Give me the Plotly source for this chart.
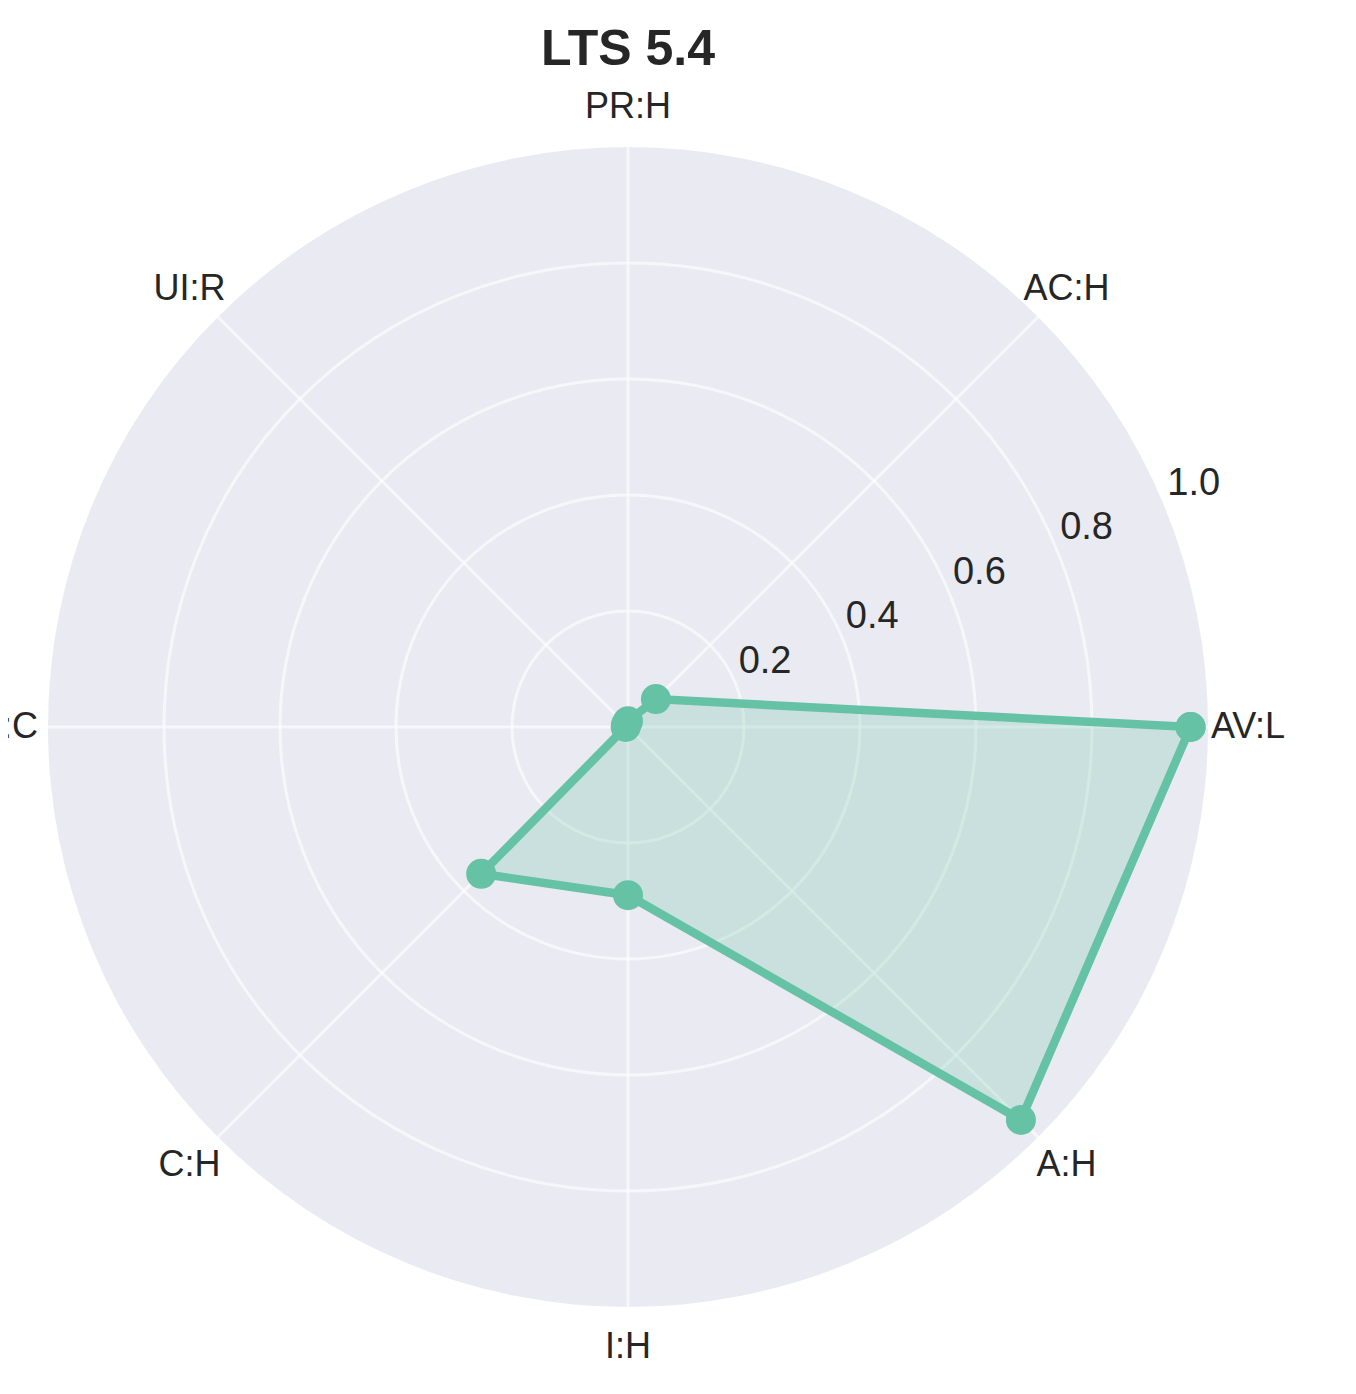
import plotly.graph_objects as go

categories = ["AV:L", "AC:H", "PR:H", "UI:R", "S:C", "C:H", "I:H", "A:H"]
values = [0.97, 0.068, 0.01, 0.005, 0.004, 0.358, 0.29, 0.958]
radial_ticks = [0.2, 0.4, 0.6, 0.8, 1.0]
radial_tick_text = ["0.2", "0.4", "0.6", "0.8", "1.0"]
title_text = "LTS 5.4"

W, H = 1356, 1394
off = 8  # page body margin
cx, cy, R = 628 - off, 727 - off, 580
R_lab = 620  # radius of the angular label ring (px)
# radial tick label layer offset (px)
lx, ly = -4, -47

theta = categories + [categories[0]]
r = values + [values[0]]

fig = go.Figure()
fig.add_trace(go.Scatterpolar(
    r=r, theta=theta, mode="lines+markers",
    fill="toself", fillcolor="rgba(102,194,165,0.25)",
    line=dict(color="#66c2a5", width=8.5),
    marker=dict(color="#66c2a5", size=30),
    showlegend=False, hoverinfo="skip",
))
fig.add_trace(go.Scatterpolar(
    r=[], theta=[], mode="markers", subplot="polar2",
    showlegend=False, hoverinfo="skip",
))
fig.add_trace(go.Scatterpolar(
    r=[1.0] * len(categories), theta=categories, mode="text", subplot="polar3",
    text=categories, textposition="middle center", cliponaxis=False,
    textfont=dict(size=36, color="#262626",
                  family="Liberation Sans, Arial, sans-serif"),
    showlegend=False, hoverinfo="skip",
))


def dom(x0, y0, rad):
    return dict(x=[(x0 - rad) / W, (x0 + rad) / W],
                y=[(H - y0 - rad) / H, (H - y0 + rad) / H])


hidden_ang = dict(showline=False, showgrid=False, showticklabels=False, ticks="")
fig.update_layout(
    width=W, height=H,
    margin=dict(l=0, r=0, t=0, b=0),
    paper_bgcolor="white",
    font=dict(family="Liberation Sans, Arial, sans-serif", color="#262626"),
    title=dict(text="<b>" + title_text + "</b>", x=(628 - off) / W, xanchor="center",
               y=1 - (47 - off) / H, yanchor="middle",
               font=dict(size=50, color="#262626")),
    polar=dict(
        domain=dom(cx, cy, R),
        bgcolor="#EAEAF2",
        angularaxis=dict(
            direction="counterclockwise", rotation=0,
            type="category", categoryorder="array", categoryarray=categories,
            showline=False, gridcolor="rgba(255,255,255,0.6)", gridwidth=2.5,
            ticks="", showticklabels=False,
        ),
        radialaxis=dict(
            range=[0, 1.0], angle=22.5,
            tickvals=radial_ticks, showticklabels=False,
            showline=False, ticks="", gridcolor="rgba(255,255,255,0.6)", gridwidth=2.5,
        ),
    ),
    polar2=dict(
        domain=dom(cx + lx, cy + ly, R),
        bgcolor="rgba(0,0,0,0)",
        angularaxis=hidden_ang,
        radialaxis=dict(
            range=[0, 1.0], angle=22.5, tickangle=22.5, side="clockwise",
            tickvals=radial_ticks, ticktext=radial_tick_text,
            showline=False, showgrid=False, ticks="",
            tickfont=dict(size=38, color="#262626"),
        ),
    ),
    polar3=dict(
        domain=dom(cx, cy + 2, R_lab),
        bgcolor="rgba(0,0,0,0)",
        angularaxis=dict(direction="counterclockwise", rotation=0,
                         type="category", categoryorder="array",
                         categoryarray=categories, **hidden_ang),
        radialaxis=dict(range=[0, 1.0], showline=False, showgrid=False,
                        showticklabels=False, ticks=""),
    ),
)

fig.write_html("out.html")
